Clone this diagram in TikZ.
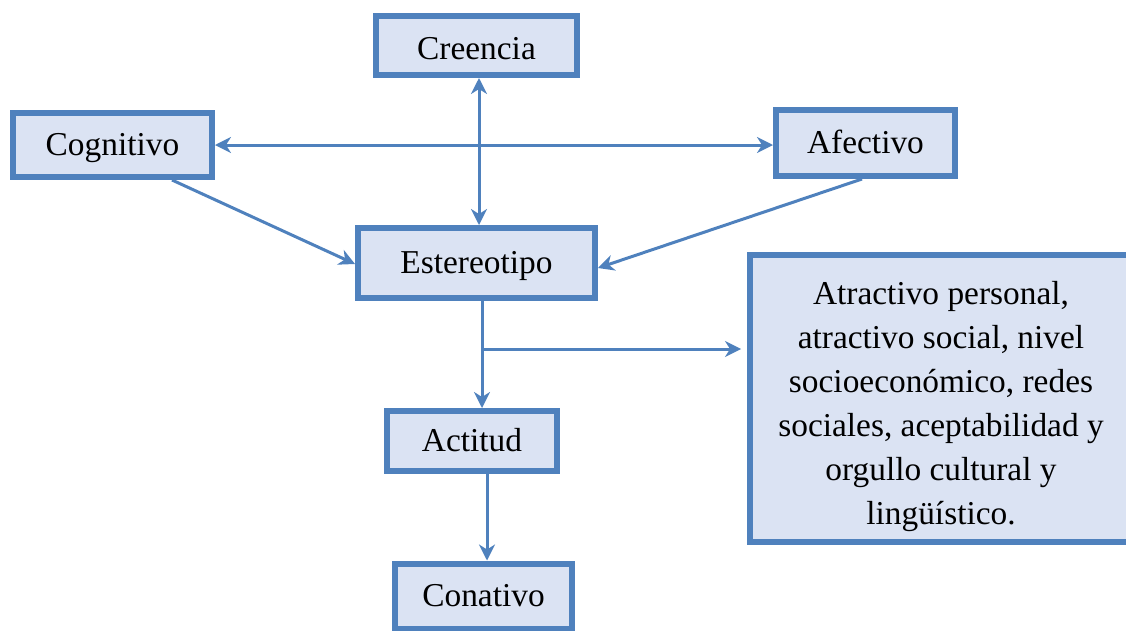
\documentclass[tikz,border=0pt]{standalone}
\usepackage{fontspec}
\setmainfont{Liberation Serif}
\usepackage{xcolor}
\usetikzlibrary{arrows.meta}
\definecolor{azulborde}{RGB}{79,129,189}
\definecolor{azulfondo}{RGB}{219,227,243}

\begin{document}
\begin{tikzpicture}[x=0.02cm, y=-0.02cm,
    caja/.style={draw=azulborde, fill=azulfondo, line width=0.12cm, inner sep=2pt,
        font=\fontsize{19}{25}\selectfont, align=center},
    cajita/.style={caja, text height=14pt, text depth=2pt},
    flecha/.style={draw=azulborde, line width=0.06cm},
    >={Stealth[length=0.32cm, width=0.32cm, inset=0.1cm]}]
    \useasboundingbox (0,0) rectangle (1126,630);
    % cajas
    \node[cajita, minimum width=4.02cm, minimum height=1.18cm, text height=16pt, text depth=0pt] (creencia) at (476.5,45.5) {Creencia};
    \node[cajita, minimum width=3.98cm, minimum height=1.28cm] (cognitivo) at (112.5,145) {Cognitivo};
    \node[cajita, minimum width=3.58cm, minimum height=1.32cm] (afectivo) at (865.5,143) {Afectivo};
    \node[cajita, minimum width=4.74cm, minimum height=1.40cm] (estereotipo) at (476.5,263) {Estereotipo};
    \node[cajita, minimum width=3.40cm, minimum height=1.20cm] (actitud) at (472,441) {Actitud};
    \node[cajita, minimum width=3.54cm, minimum height=1.30cm] (conativo) at (483.5,596) {Conativo};
    \node[caja, minimum width=7.64cm, minimum height=5.74cm] (atributos) at (941,398.5)
        {\rule{0pt}{22pt}Atractivo personal,\\ atractivo social, nivel\\ socioeconómico, redes\\
         sociales, aceptabilidad y\\ orgullo cultural y\\ lingüístico.};
    % puntos auxiliares
    \coordinate (eje) at (479,0);
    \coordinate (rama) at (482,349);
    \coordinate (baja) at (487,0);
    \coordinate (salcog) at (172,0);
    \coordinate (salafe) at (862,0);
    % flechas
    \draw[flecha, <->] (creencia.south -| eje) -- (estereotipo.north -| eje);
    \draw[flecha, <->] (cognitivo.east) -- (afectivo.west |- cognitivo.east);
    \draw[flecha, ->] (cognitivo.south -| salcog) -- ([yshift=-0.02cm]estereotipo.west);
    \draw[flecha, ->] (afectivo.south -| salafe) -- ([yshift=-0.1cm]estereotipo.east);
    \draw[flecha, ->] (estereotipo.south -| rama) -- (actitud.north -| rama);
    \draw[flecha, ->, shorten >=0.12cm] (rama) -- (atributos.west |- rama);
    \draw[flecha, ->] (actitud.south -| baja) -- (conativo.north -| baja);
\end{tikzpicture}
\end{document}
